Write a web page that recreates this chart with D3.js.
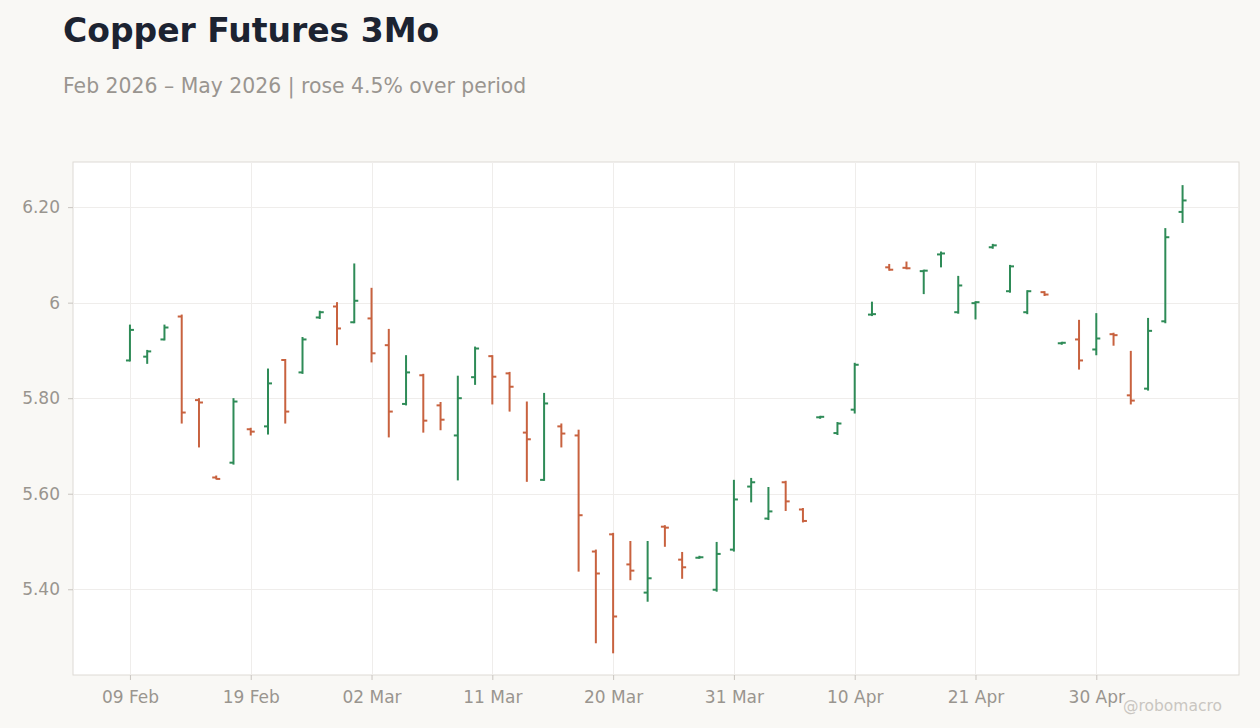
<!DOCTYPE html>
<html>
<head>
<meta charset="utf-8">
<script src="https://cdn.jsdelivr.net/npm/d3@7"></script>
<style>
  body { margin: 0; background: #f9f8f5; }
  svg { display: block; font-family: "DejaVu Sans", sans-serif; }
</style>
</head>
<body>
<svg id="chart"></svg>
<script>
const width = 1260, height = 728;

// trading days
const dates = [
  "2026-02-09","2026-02-10","2026-02-11","2026-02-12","2026-02-13","2026-02-17","2026-02-18",
  "2026-02-19","2026-02-20","2026-02-23","2026-02-24","2026-02-25","2026-02-26","2026-02-27",
  "2026-03-02","2026-03-03","2026-03-04","2026-03-05","2026-03-06","2026-03-09","2026-03-10",
  "2026-03-11","2026-03-12","2026-03-13","2026-03-16","2026-03-17","2026-03-18","2026-03-19",
  "2026-03-20","2026-03-23","2026-03-24","2026-03-25","2026-03-26","2026-03-27","2026-03-30",
  "2026-03-31","2026-04-01","2026-04-02","2026-04-06","2026-04-07","2026-04-08","2026-04-09",
  "2026-04-10","2026-04-13","2026-04-14","2026-04-15","2026-04-16","2026-04-17","2026-04-20",
  "2026-04-21","2026-04-22","2026-04-23","2026-04-24","2026-04-27","2026-04-28","2026-04-29",
  "2026-04-30","2026-05-01","2026-05-04","2026-05-05","2026-05-06","2026-05-07"
];

const open = [
  5.879,5.887,5.923,5.971,5.796,5.634,5.665,5.735,5.741,5.880,5.854,5.969,5.992,5.959,
  5.967,5.911,5.788,5.848,5.785,5.722,5.844,5.888,5.852,5.728,5.629,5.741,5.722,5.479,
  5.515,5.452,5.393,5.531,5.462,5.466,5.399,5.483,5.615,5.548,5.624,5.567,5.760,5.727,
  5.776,5.975,6.074,6.073,6.066,6.101,5.980,5.999,6.116,6.024,5.980,6.022,5.915,5.923,
  5.902,5.934,5.806,5.820,5.961,6.190
];
const high = [
  5.952,5.899,5.952,5.973,5.798,5.636,5.798,5.736,5.860,5.880,5.926,5.981,5.999,6.080,
  6.029,5.943,5.888,5.849,5.790,5.845,5.906,5.888,5.853,5.791,5.809,5.745,5.732,5.481,
  5.516,5.499,5.499,5.532,5.476,5.468,5.497,5.627,5.631,5.612,5.625,5.568,5.761,5.748,
  5.872,6.000,6.079,6.084,6.067,6.105,6.054,6.001,6.121,6.077,6.024,6.022,5.916,5.962,
  5.976,5.935,5.897,5.966,6.154,6.244
];
const low = [
  5.879,5.874,5.923,5.749,5.699,5.632,5.663,5.724,5.726,5.749,5.853,5.968,5.913,5.959,
  5.877,5.720,5.787,5.730,5.735,5.630,5.830,5.789,5.774,5.627,5.629,5.699,5.439,5.289,
  5.268,5.421,5.376,5.491,5.424,5.466,5.397,5.481,5.584,5.547,5.566,5.542,5.759,5.725,
  5.770,5.974,6.069,6.072,6.020,6.076,5.979,5.967,6.115,6.023,5.978,6.016,5.914,5.862,
  5.892,5.912,5.789,5.818,5.959,6.169
];
const close = [
  5.943,5.898,5.948,5.770,5.791,5.631,5.793,5.730,5.831,5.772,5.923,5.980,5.946,6.004,
  5.894,5.772,5.854,5.753,5.755,5.800,5.904,5.845,5.824,5.714,5.789,5.726,5.555,5.433,
  5.343,5.439,5.423,5.529,5.446,5.467,5.474,5.588,5.624,5.563,5.584,5.543,5.761,5.747,
  5.870,5.976,6.069,6.072,6.067,6.103,6.036,6.001,6.120,6.076,6.024,6.017,5.916,5.879,
  5.925,5.932,5.795,5.941,6.137,6.214
];

const yTicks = [5.40, 5.60, 5.80, 6.00, 6.20];
const yTickLabels = ["5.40", "5.60", "5.80", "6", "6.20"];
const xTickIdx = [0, 7, 14, 21, 28, 35, 42, 49, 56];

const parse = d3.timeParse("%Y-%m-%d");
const data = dates.map((d, i) => ({
  i: i, date: parse(d), o: open[i], h: high[i], l: low[i], c: close[i]
}));

const margin = {top: 162, right: 21, bottom: 53, left: 73};
const iw = width - margin.left - margin.right;
const ih = height - margin.top - margin.bottom;

const svg = d3.select("#chart").attr("width", width).attr("height", height);

svg.append("text")
    .attr("x", 63).attr("y", 42)
    .attr("font-size", 33).attr("font-weight", "bold")
    .attr("fill", "#1c2331")
    .text("Copper Futures 3Mo");

svg.append("text")
    .attr("x", 63).attr("y", 93)
    .attr("font-size", 20.4)
    .attr("fill", "#999590")
    .text("Feb 2026 \u2013 May 2026 | rose 4.5% over period");

const x = d3.scaleLinear()
    .domain([-3.3, data.length - 1 + 3.27])
    .range([0, iw]);

const y = d3.scaleLinear()
    .domain([5.2205, 6.2945])
    .range([ih, 0]);

const g = svg.append("g")
    .attr("transform", "translate(" + margin.left + "," + margin.top + ")");

g.append("rect")
    .attr("width", iw).attr("height", ih)
    .attr("fill", "#ffffff")
    .attr("stroke", "#dedad5");

// grid
g.selectAll(".hgrid").data(yTicks).enter().append("line")
    .attr("x1", 0).attr("x2", iw)
    .attr("y1", d => Math.round(y(d)) + 0.5).attr("y2", d => Math.round(y(d)) + 0.5)
    .attr("stroke", "#efedeb");

g.selectAll(".vgrid").data(xTickIdx).enter().append("line")
    .attr("y1", 0).attr("y2", ih)
    .attr("x1", d => Math.round(x(d)) + 0.5).attr("x2", d => Math.round(x(d)) + 0.5)
    .attr("stroke", "#efedeb");

// axes
const fmtDate = d3.timeFormat("%d %b");
const xAxis = d3.axisBottom(x)
    .tickValues(xTickIdx)
    .tickSize(5)
    .tickPadding(11)
    .tickFormat(i => fmtDate(data[i].date));

const gx = g.append("g")
    .attr("transform", "translate(0," + ih + ")")
    .call(xAxis);
gx.select(".domain").remove();
gx.selectAll("line").attr("stroke", "#c8c4bf");
gx.selectAll("text").attr("fill", "#99958f").attr("font-size", 17)
    .attr("font-family", "DejaVu Sans, sans-serif");

const yAxis = d3.axisLeft(y)
    .tickValues(yTicks)
    .tickSize(5)
    .tickPadding(8)
    .tickFormat((d, i) => yTickLabels[i]);

const gy = g.append("g").call(yAxis);
gy.select(".domain").remove();
gy.selectAll("line").attr("stroke", "#c8c4bf");
gy.selectAll("text").attr("fill", "#99958f").attr("font-size", 17)
    .attr("font-family", "DejaVu Sans, sans-serif");

// OHLC bars
const up = "#2e8b57", down = "#c8623f";
const bars = g.selectAll(".bar").data(data).enter().append("g")
    .attr("class", "bar")
    .attr("stroke", d => d.c >= d.o ? up : down)
    .attr("stroke-width", 2);

bars.append("line")
    .attr("x1", d => x(d.i)).attr("x2", d => x(d.i))
    .attr("y1", d => y(d.h) - 1).attr("y2", d => y(d.l) + 1);

bars.append("line")
    .attr("x1", d => x(d.i) - 4).attr("x2", d => x(d.i))
    .attr("y1", d => y(d.o)).attr("y2", d => y(d.o));

bars.append("line")
    .attr("x1", d => x(d.i)).attr("x2", d => x(d.i) + 4)
    .attr("y1", d => y(d.c)).attr("y2", d => y(d.c));

svg.append("text")
    .attr("x", 1222).attr("y", 711)
    .attr("text-anchor", "end")
    .attr("font-size", 15.5)
    .attr("fill", "#c9c6c1")
    .text("@robomacro");
</script>
</body>
</html>
